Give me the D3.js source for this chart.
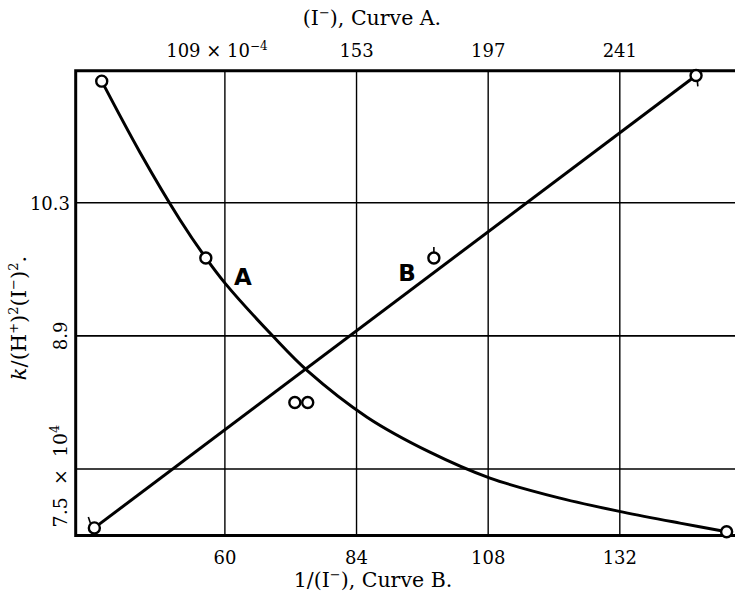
<!DOCTYPE html>
<html lang="en">
<head>
    <meta charset="UTF-8">
    <title>Curves A and B</title>
    <style>
        body {
            margin: 0;
            background-color: #FFFFFF;
        }
        svg text {
            font-family: "DejaVu Serif", "Liberation Serif", serif;
            fill: #000000;
        }
    </style>
</head>
<body>
    <div id="chart"></div>

    <script src="https://d3js.org/d3.v7.min.js"></script>
    <script>
        const width = 735;
        const height = 592;

        // Curve A: (I-) in units of 10^-4 (top axis) against k/(H+)^2(I-)^2
        const curveAX = [67.8, 80.6, 94.0, 102.6, 109, 125.0, 136.7, 156.5, 177.5, 197.6, 221.0, 242.1, 261.1, 276.7];
        const curveAY = [11.58, 10.83, 10.12, 9.72, 9.455, 8.898, 8.529, 8.045, 7.677, 7.404, 7.193, 7.046, 6.930, 6.84];
        const pointsAX = [67.8, 102.6, 276.7];
        const pointsAY = [11.58, 9.72, 6.84];

        // Curve B: 1/(I-) (bottom axis), a straight line through the end points
        const lineBX = [36.2, 145.9];
        const lineBY = [6.88, 11.64];
        const pointsBX = [36.2, 98.1, 145.9];
        const pointsBY = [6.88, 9.72, 11.64];

        // the pair of circles between the curves
        const pairX = [72.75, 75.1];
        const pairY = [8.2, 8.2];

        const bottomTicks = [60, 84, 108, 132];
        const topTicks = [109, 153, 197, 241];
        const yTicks = [7.5, 8.9, 10.3];

        // Scales
        const x = d3.scaleLinear().domain([32.8, 153]).range([75.7, 735]);
        const xTop = d3.scaleLinear().domain([59.1, 279.5]).range([75.7, 735]);
        const y = d3.scaleLinear().domain([6.80, 11.69]).range([535.5, 70.7]);

        const svg = d3.select("#chart")
            .append("svg")
            .attr("width", width)
            .attr("height", height);

        // Grid lines
        svg.selectAll(".vgrid")
            .data(bottomTicks)
            .enter().append("line")
            .attr("x1", d => x(d)).attr("x2", d => x(d))
            .attr("y1", y.range()[1]).attr("y2", y.range()[0])
            .attr("stroke", "#000").attr("stroke-width", 1.4);

        svg.selectAll(".hgrid")
            .data(yTicks)
            .enter().append("line")
            .attr("x1", x.range()[0]).attr("x2", x.range()[1])
            .attr("y1", d => y(d)).attr("y2", d => y(d))
            .attr("stroke", "#000").attr("stroke-width", 1.6);

        // Frame (left, top, bottom)
        svg.append("path")
            .attr("d", `M${x.range()[1]},${y.range()[1]} H${x.range()[0]} V${y.range()[0]} H${x.range()[1]}`)
            .attr("fill", "none")
            .attr("stroke", "#000")
            .attr("stroke-width", 3);

        // Curve A
        const curveA = curveAX.map((v, i) => [xTop(v), y(curveAY[i])]);
        svg.append("path")
            .attr("d", d3.line().curve(d3.curveCatmullRom.alpha(0.5))(curveA))
            .attr("fill", "none")
            .attr("stroke", "#000")
            .attr("stroke-width", 3);

        // Line B
        const lineB = lineBX.map((v, i) => [x(v), y(lineBY[i])]);
        svg.append("path")
            .attr("d", d3.line()(lineB))
            .attr("fill", "none")
            .attr("stroke", "#000")
            .attr("stroke-width", 3);

        // Observed points
        function drawCircles(cx, cy) {
            svg.selectAll(null)
                .data(cx.map((v, i) => [v, cy[i]]))
                .enter().append("circle")
                .attr("cx", d => d[0])
                .attr("cy", d => d[1])
                .attr("r", 5.5)
                .attr("fill", "#fff")
                .attr("stroke", "#000")
                .attr("stroke-width", 2.4);
        }
        drawCircles(pointsAX.map(xTop), pointsAY.map(y));
        drawCircles(pointsBX.map(x), pointsBY.map(y));
        drawCircles(pairX.map(x), pairY.map(y));

        // little ticks on the B circles
        const tickDir = [[-1, -1], [0, -1], [0.3, 1]];
        pointsBX.forEach((v, i) => {
            const cx = x(v), cy = y(pointsBY[i]);
            const [dx, dy] = tickDir[i];
            svg.append("line")
                .attr("x1", cx + dx * 4).attr("y1", cy + dy * 5)
                .attr("x2", cx + dx * 6).attr("y2", cy + dy * 11)
                .attr("stroke", "#000").attr("stroke-width", 1.6);
        });

        // Curve letters
        svg.append("text")
            .attr("x", x(63.3)).attr("y", y(9.53) + 9)
            .attr("text-anchor", "middle")
            .style("font-family", "'DejaVu Sans', sans-serif")
            .style("font-weight", "bold")
            .attr("font-size", "23px")
            .text("A");
        svg.append("text")
            .attr("x", x(93.2)).attr("y", y(9.57) + 9)
            .attr("text-anchor", "middle")
            .style("font-family", "'DejaVu Sans', sans-serif")
            .style("font-weight", "bold")
            .attr("font-size", "23px")
            .text("B");

        // Bottom tick labels
        svg.selectAll(".btick")
            .data(bottomTicks)
            .enter().append("text")
            .attr("x", d => x(d))
            .attr("y", 564)
            .attr("text-anchor", "middle")
            .attr("font-size", "18px")
            .text(d => d);

        svg.append("text")
            .attr("x", 373).attr("y", 587)
            .attr("text-anchor", "middle")
            .attr("font-size", "20.5px")
            .html("1/(I<tspan dy='-8' font-size='13px'>−</tspan><tspan dy='8'>), Curve B.</tspan>");

        // Top tick labels
        const topLabels = svg.selectAll(".ttick")
            .data(topTicks)
            .enter().append("text")
            .attr("x", d => xTop(d))
            .attr("y", 57)
            .attr("text-anchor", "middle")
            .attr("font-size", "18px");
        topLabels.each(function(d, i) {
            const t = d3.select(this);
            if (i === 0) {
                t.attr("dx", -8)
                    .html("109\u00A0×\u00A010<tspan dy='-7' font-size='12px'>−4</tspan>");
            } else {
                t.text(d);
            }
        });

        svg.append("text")
            .attr("x", 372).attr("y", 25)
            .attr("text-anchor", "middle")
            .attr("font-size", "20.5px")
            .html("(I<tspan dy='-8' font-size='13px'>−</tspan><tspan dy='8'>), Curve A.</tspan>");

        // Left tick labels
        svg.append("text")
            .attr("x", 70).attr("y", y(10.3) + 7)
            .attr("text-anchor", "end")
            .attr("font-size", "18px")
            .text("10.3");

        svg.append("text")
            .attr("transform", `translate(67,${y(8.9)}) rotate(-90)`)
            .attr("text-anchor", "middle")
            .attr("font-size", "18px")
            .text("8.9");

        svg.append("text")
            .attr("transform", `translate(67,476) rotate(-90)`)
            .attr("text-anchor", "middle")
            .attr("font-size", "19px")
            .html("7.5\u00A0\u00A0×\u00A0\u00A010<tspan dy='-8' font-size='13px'>4</tspan>");

        // Y axis title
        svg.append("text")
            .attr("transform", "translate(26,318) rotate(-90)")
            .attr("text-anchor", "middle")
            .attr("font-size", "21px")
            .html("<tspan font-style='italic'>k</tspan>/(H<tspan dy='-8' font-size='13px'>+</tspan><tspan dy='8'>)</tspan><tspan dy='-8' font-size='13px'>2</tspan><tspan dy='8'>(I</tspan><tspan dy='-8' font-size='13px'>−</tspan><tspan dy='8'>)</tspan><tspan dy='-8' font-size='13px'>2</tspan><tspan dy='8'>.</tspan>");
    </script>
</body>
</html>
